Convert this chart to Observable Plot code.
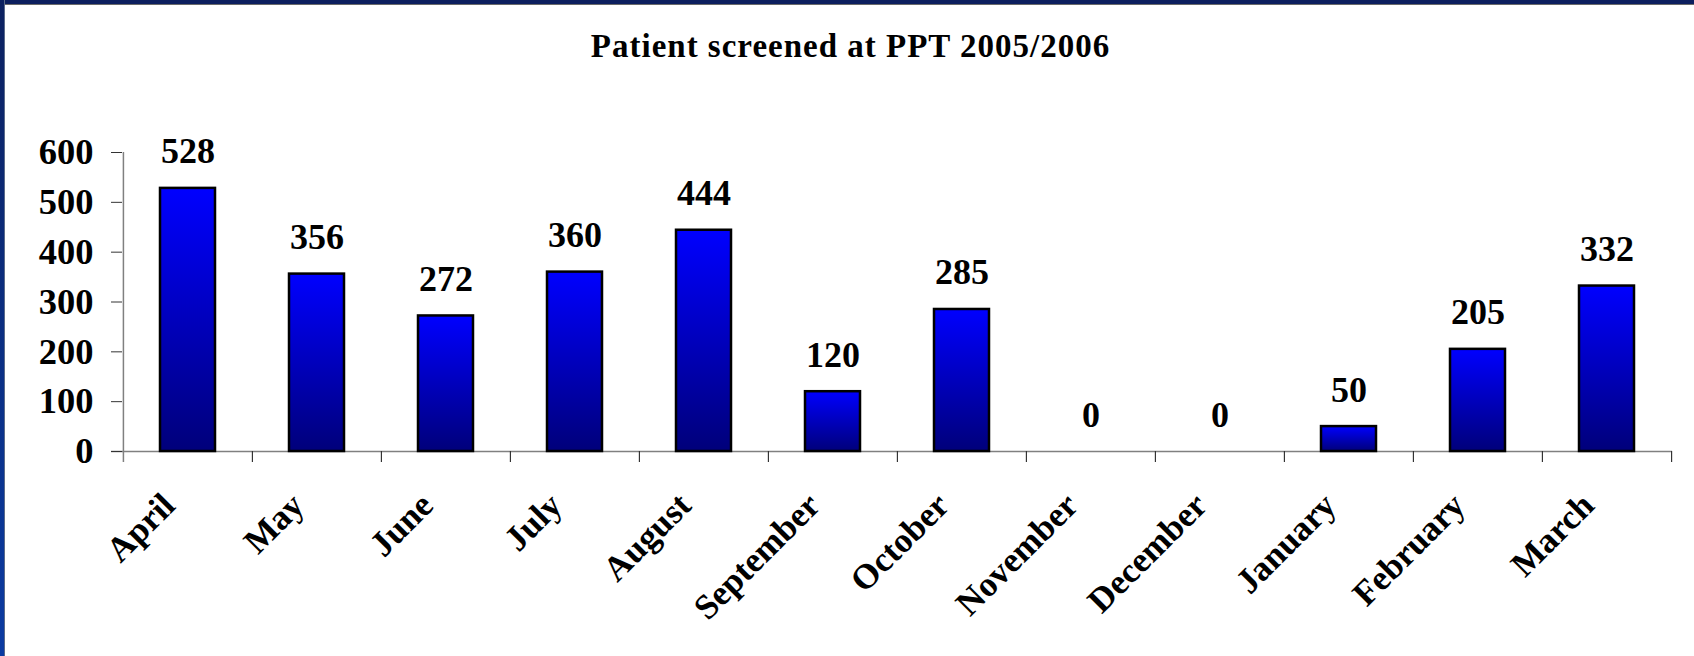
<!DOCTYPE html>
<html><head><meta charset="utf-8">
<script src="https://cdn.jsdelivr.net/npm/d3@7"></script>
<script src="https://cdn.jsdelivr.net/npm/@observablehq/plot@0.6"></script>
<style>
html,body{margin:0;padding:0;background:#fff;}
#wrap{position:relative;width:1694px;height:656px;overflow:hidden;background:#fff;}
#topb{position:absolute;left:0;top:0;width:1694px;height:4px;background:#0c1f5e;border-bottom:1px solid #6a6a6a;z-index:2;}
#leftb{position:absolute;left:0;top:0;width:4px;height:656px;background:linear-gradient(#0c2160,#0b3ba2);border-right:1px solid #5a6a8a;z-index:2;}
svg{display:block;}
</style></head><body><div id="wrap"><div id="topb"></div><div id="leftb"></div></div>
<script>
const months = ["April","May","June","July","August","September","October","November","December","January","February","March"];
const patients = [528,356,272,360,444,120,285,0,0,50,205,332];
const yTicks = [0,100,200,300,400,500,600];
const title = "Patient screened at PPT 2005/2006";

const data = months.map((m,i)=>({month:m, value:patients[i]}));

const W=1694, H=656, mL=122, mR=22, mT=152, mB=205;
const step=(W-mL-mR)/months.length;
const serif='"Liberation Serif","Times New Roman",serif';
const yMax = yTicks[yTicks.length-1];

const chart = Plot.plot({
  width:W, height:H, marginLeft:mL, marginRight:mR, marginTop:mT, marginBottom:mB,
  style:{fontFamily:serif, background:"transparent", overflow:"visible", color:"black"},
  x:{domain:months, padding:0, axis:null},
  y:{domain:[0,yMax]},
  marks:[
    Plot.ruleY([0], {stroke:"#808080", strokeWidth:1.5, insetLeft:-11}),
    Plot.ruleX([months[0]], {dx:-step/2, y1:yMax, y2:0, insetBottom:-11, stroke:"#808080", strokeWidth:1.5}),
    Plot.ruleX(months.slice(1), {x:d=>d, dx:-step/2, y1:0, y2:0, insetBottom:-11, stroke:"#333", strokeWidth:1.2}),
    Plot.ruleX([months[months.length-1]], {x:d=>d, dx:step/2, y1:0, y2:0, insetBottom:-11, stroke:"#333", strokeWidth:1.2}),
    Plot.axisY(yTicks, {tickSize:11, tickPadding:18, fontSize:36.5, fontWeight:"bold", stroke:"#333", fill:"black", label:null}),
    Plot.barY(data.filter(d=>d.value>0), {x:"month", y:"value", fill:"url(#barGrad)", stroke:"black", strokeWidth:2.5, insetLeft:37, insetRight:37}),
    Plot.text(data, {x:"month", y:"value", text:d=>String(d.value), lineAnchor:"bottom", dy:-25, fontSize:36, fontWeight:"bold", fill:"black"}),
    Plot.text(months, {x:d=>d, y:0, text:d=>d, rotate:-45, textAnchor:"end", lineAnchor:"bottom", dx:-11, dy:56, fontSize:35, fontWeight:"bold", fill:"black"}),
    Plot.text([title], {frameAnchor:"top", dx:-47, dy:-95.5, lineAnchor:"bottom", fontSize:33, fontWeight:"bold", fill:"black", style:"letter-spacing:1px"})
  ]
});

const defs = d3.select(chart).insert("defs", ":first-child");
const grad = defs.append("linearGradient").attr("id","barGrad").attr("x1",0).attr("y1",0).attr("x2",0).attr("y2",1);
grad.append("stop").attr("offset","0%").attr("stop-color","#0000ff");
grad.append("stop").attr("offset","100%").attr("stop-color","#00007a");

// title letter spacing
d3.select(chart).selectAll("text").filter(function(){ return this.textContent === title; }).style("letter-spacing","1px");

document.getElementById("wrap").appendChild(chart);
</script>
</body></html>
